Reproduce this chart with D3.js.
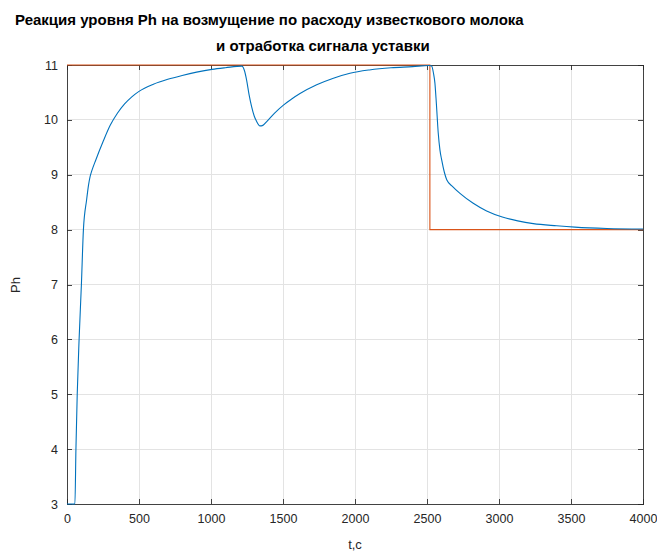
<!DOCTYPE html>
<html><head><meta charset="utf-8">
<script src="https://cdn.jsdelivr.net/npm/d3@7"></script>
<style>body{margin:0;background:#fff}svg{display:block}text{font-family:"Liberation Sans",Arial,sans-serif}</style>
</head><body><svg id="c" width="657" height="553"></svg>
<script>
const titleLines = ["Реакция уровня Ph на возмущение по расходу известкового молока", "и отработка сигнала уставки"];
const xLabel = "t,c";
const yLabel = "Ph";
const xTicks = [0, 500, 1000, 1500, 2000, 2500, 3000, 3500, 4000];
const yTicks = [3, 4, 5, 6, 7, 8, 9, 10, 11];
const respT = [0,55,62,71,84,100,114,136,150,160,172,200,250,300,350,400,450,500,600,700,800,900,1007,1100,1215,1232,1247,1265,1282,1300,1317,1340,1360,1387,1440,1503,1560,1618,1734,1850,1965,2100,2250,2400,2515,2532,2545,2555,2565,2578,2590,2602,2620,2637,2680,2729,2821,2914,3023,3130,3238,3400,3527,3750,4000];
const respPh = [3,3,4,5,6,7,8,8.54,8.82,8.96,9.07,9.27,9.6,9.9,10.12,10.29,10.42,10.52,10.65,10.74,10.81,10.87,10.92,10.95,10.98,10.9,10.73,10.45,10.24,10.07,9.97,9.89,9.9,9.97,10.12,10.27,10.38,10.48,10.64,10.76,10.85,10.91,10.95,10.97,10.99,10.98,10.85,10.67,10.3,9.76,9.45,9.27,9.05,8.91,8.78,8.66,8.48,8.34,8.23,8.16,8.11,8.07,8.045,8.02,8.01];
const setT = [0, 2520, 2520, 4000];
const setPh = [11, 11, 8, 8];

const W = 657, H = 553, m = {l:67, r:14, t:65, b:49};
const svg = d3.select("#c");
const x = d3.scaleLinear().domain([0,4000]).range([m.l, W-m.r]);
const y = d3.scaleLinear().domain([3,11]).range([H-m.b, m.t]);
const axisCol = "#262626";

svg.append("defs").append("clipPath").attr("id","clip").append("rect")
  .attr("x", m.l).attr("y", m.t-1).attr("width", W-m.l-m.r).attr("height", H-m.t-m.b+2);

// grid
const g = svg.append("g");
g.selectAll(".gx").data(xTicks).join("line").attr("x1",d=>x(d)).attr("x2",d=>x(d))
  .attr("y1",m.t).attr("y2",H-m.b).attr("stroke","#e3e3e3").attr("stroke-width",1).attr("shape-rendering","crispEdges");
g.selectAll(".gy").data(yTicks).join("line").attr("y1",d=>y(d)).attr("y2",d=>y(d))
  .attr("x1",m.l).attr("x2",W-m.r).attr("stroke","#e3e3e3").attr("stroke-width",1).attr("shape-rendering","crispEdges");

// axes
const xb = svg.append("g").attr("transform",`translate(0,${H-m.b})`)
  .call(d3.axisBottom(x).tickValues(xTicks).tickSizeInner(-5).tickSizeOuter(0).tickPadding(10).tickFormat(d3.format("d")));
const xt = svg.append("g").attr("transform",`translate(0,${m.t})`)
  .call(d3.axisTop(x).tickValues(xTicks).tickSizeInner(-5).tickSizeOuter(0).tickFormat(""));
const yl = svg.append("g").attr("transform",`translate(${m.l},0)`)
  .call(d3.axisLeft(y).tickValues(yTicks).tickSizeInner(-5).tickSizeOuter(0).tickPadding(9).tickFormat(d3.format("d")));
const yr = svg.append("g").attr("transform",`translate(${W-m.r},0)`)
  .call(d3.axisRight(y).tickValues(yTicks).tickSizeInner(-5).tickSizeOuter(0).tickFormat(""));
[xb,xt,yl,yr].forEach(a=>{
  a.selectAll("path,line").attr("stroke",axisCol).attr("stroke-opacity",0.85).attr("shape-rendering","crispEdges");
  a.selectAll("text").attr("fill",axisCol).attr("font-size",12.5).attr("font-family","Liberation Sans, Arial, sans-serif");
});

// lines
const setData = setT.map((t,i)=>[t,setPh[i]]);
const respData = respT.map((t,i)=>[t,respPh[i]]);
const plot = svg.append("g").attr("clip-path","url(#clip)");
plot.append("path").datum(setData).attr("fill","none").attr("stroke","#D95319").attr("stroke-width",1.1)
  .attr("d", d3.line().x(d=>x(d[0])).y(d=>y(d[1])));
plot.append("path").datum(respData).attr("fill","none").attr("stroke","#0072BD").attr("stroke-width",1.1)
  .attr("d", d3.line().curve(d3.curveMonotoneX).x(d=>x(d[0])).y(d=>y(d[1])));

// titles
svg.append("text").attr("x",15).attr("y",25).attr("font-weight","bold").attr("font-size",15).attr("fill","#000").text(titleLines[0]);
svg.append("text").attr("x",216).attr("y",51).attr("font-weight","bold").attr("font-size",15).attr("fill","#000").text(titleLines[1]);
svg.append("text").attr("x",355).attr("y",549).attr("text-anchor","middle").attr("font-size",13).attr("fill",axisCol).text(xLabel);
svg.append("text").attr("transform","translate(20,285) rotate(-90)").attr("text-anchor","middle").attr("font-size",13).attr("fill",axisCol).text(yLabel);
</script></body></html>
